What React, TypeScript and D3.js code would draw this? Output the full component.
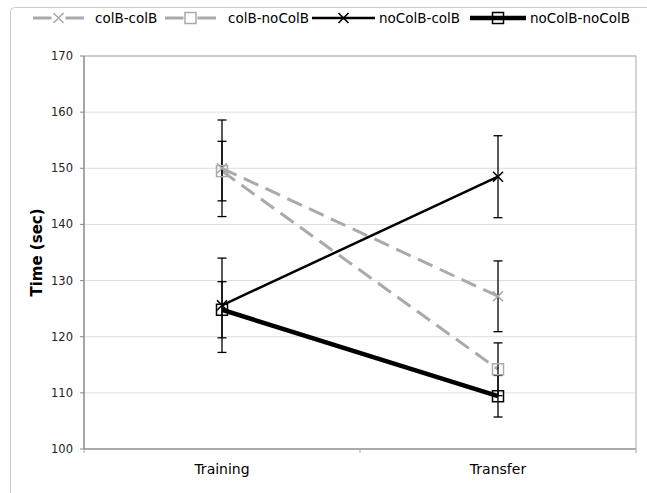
import React from "react";
import * as d3 from "d3";

const categories = ["Training", "Transfer"];
const seriesNames = ["colB-colB", "colB-noColB", "noColB-colB", "noColB-noColB"];
const colBcolB = [150.0, 127.2];
const colBnoColB = [149.5, 114.2];
const noColBcolB = [125.6, 148.5];
const noColBnoColB = [124.8, 109.4];
const errColBcolB = [8.6, 6.3];
const errColBnoColB = [5.3, 4.7];
const errNoColBcolB = [8.4, 7.3];
const errNoColBnoColB = [5.0, 3.7];
const yTicks = [100, 110, 120, 130, 140, 150, 160, 170];

const W = 647, H = 493;
const L = 84, R = 636, T = 56, B = 449;
const FONT = "'DejaVu Sans', Verdana, sans-serif";

const styles = [
  { color: "#aaaaaa", width: 3, dash: "16,8", marker: "x" },
  { color: "#aaaaaa", width: 3, dash: "16,8", marker: "s" },
  { color: "#000000", width: 2.5, dash: null, marker: "x" },
  { color: "#000000", width: 4.5, dash: null, marker: "s" },
];

function Marker({ type, x, y, color }: { type: string; x: number; y: number; color: string }) {
  if (type === "x") {
    const s = 5;
    return (
      <path d={`M${x - s},${y - s}L${x + s},${y + s}M${x - s},${y + s}L${x + s},${y - s}`} stroke={color} strokeWidth={1.6} fill="none" />
    );
  }
  const s = 5.5;
  return <rect x={x - s} y={y - s} width={2 * s} height={2 * s} stroke={color} strokeWidth={1.5} fill="none" />;
}

export default function App() {
  const x = d3.scaleBand<string>().domain(categories).range([L, R]);
  const y = d3.scaleLinear().domain([100, 170]).range([B, T]);
  const cx = (c: string) => (x(c) as number) + x.bandwidth() / 2;
  const values = [colBcolB, colBnoColB, noColBcolB, noColBnoColB];
  const errs = [errColBcolB, errColBnoColB, errNoColBcolB, errNoColBnoColB];
  const line = d3.line<number>().x((_, i) => cx(categories[i])).y((d) => y(d));

  const legendItems = [
    { x1: 33, x2: 84, tx: 95 },
    { x1: 165, x2: 216, tx: 228 },
    { x1: 312, x2: 375, tx: 379 },
    { x1: 470, x2: 526, tx: 530 },
  ];
  const ly = 18;

  return (
    <svg width={W} height={H} style={{ position: "absolute", left: 0, top: 0, background: "#fff" }} fontFamily={FONT}>
      <rect x={10.5} y={7.5} width={700} height={600} rx={4} fill="none" stroke="#cccccc" strokeWidth={1} />
      {seriesNames.map((n, i) => {
        const it = legendItems[i];
        const st = styles[i];
        const mx = (it.x1 + it.x2) / 2;
        return (
          <g key={n}>
            <line x1={it.x1} x2={it.x2} y1={ly} y2={ly} stroke={st.color} strokeWidth={st.width} />
            {st.color === "#aaaaaa" ? <rect x={mx - 7} y={ly - 7} width={14} height={14} fill="#fff" /> : null}
            <Marker type={st.marker} x={mx} y={ly} color={st.color} />
            <text x={it.tx} y={ly} dy="0.35em" fontSize={13.5} fill="#000">{n}</text>
          </g>
        );
      })}
      {yTicks.map((t) => (
        <line key={t} x1={L} x2={R} y1={y(t)} y2={y(t)} stroke="#dddddd" strokeWidth={1} />
      ))}
      <rect x={L} y={T} width={R - L} height={B - T} fill="none" stroke="#aaaaaa" strokeWidth={1} />
      <line x1={L} x2={L} y1={T} y2={B} stroke="#888888" strokeWidth={1.2} />
      <line x1={L} x2={R} y1={B} y2={B} stroke="#888888" strokeWidth={1.2} />
      {yTicks.map((t) => (
        <g key={"t" + t}>
          <line x1={L - 4} x2={L} y1={y(t)} y2={y(t)} stroke="#888888" />
          <text x={73} y={y(t)} dy="0.35em" textAnchor="end" fontSize={11.5} fill="#222">{t}</text>
        </g>
      ))}
      {[L, L + x.bandwidth(), R].map((v, i) => (
        <line key={"xt" + i} x1={v} x2={v} y1={B} y2={B + 4} stroke="#aaaaaa" />
      ))}
      {categories.map((c) => (
        <text key={c} x={cx(c)} y={474} textAnchor="middle" fontSize={14} fill="#000">{c}</text>
      ))}
      <text transform={`translate(42,${(T + B) / 2}) rotate(-90)`} textAnchor="middle" fontSize={15} fontWeight="bold" fill="#000">Time (sec)</text>
      {values.map((v, i) => (
        <path key={"l" + i} d={line(v) as string} fill="none" stroke={styles[i].color} strokeWidth={styles[i].width} strokeDasharray={styles[i].dash ?? undefined} />
      ))}
      {values.map((v, i) =>
        v.map((d, j) => {
          const px = cx(categories[j]);
          const e = errs[i][j];
          return (
            <g key={`e${i}-${j}`} stroke="#000" strokeWidth={1.3}>
              <line x1={px} x2={px} y1={y(d - e)} y2={y(d + e)} />
              <line x1={px - 4.5} x2={px + 4.5} y1={y(d - e)} y2={y(d - e)} />
              <line x1={px - 4.5} x2={px + 4.5} y1={y(d + e)} y2={y(d + e)} />
            </g>
          );
        })
      )}
      {values.map((v, i) =>
        v.map((d, j) => <Marker key={`m${i}-${j}`} type={styles[i].marker} x={cx(categories[j])} y={y(d)} color={styles[i].color} />)
      )}
    </svg>
  );
}
